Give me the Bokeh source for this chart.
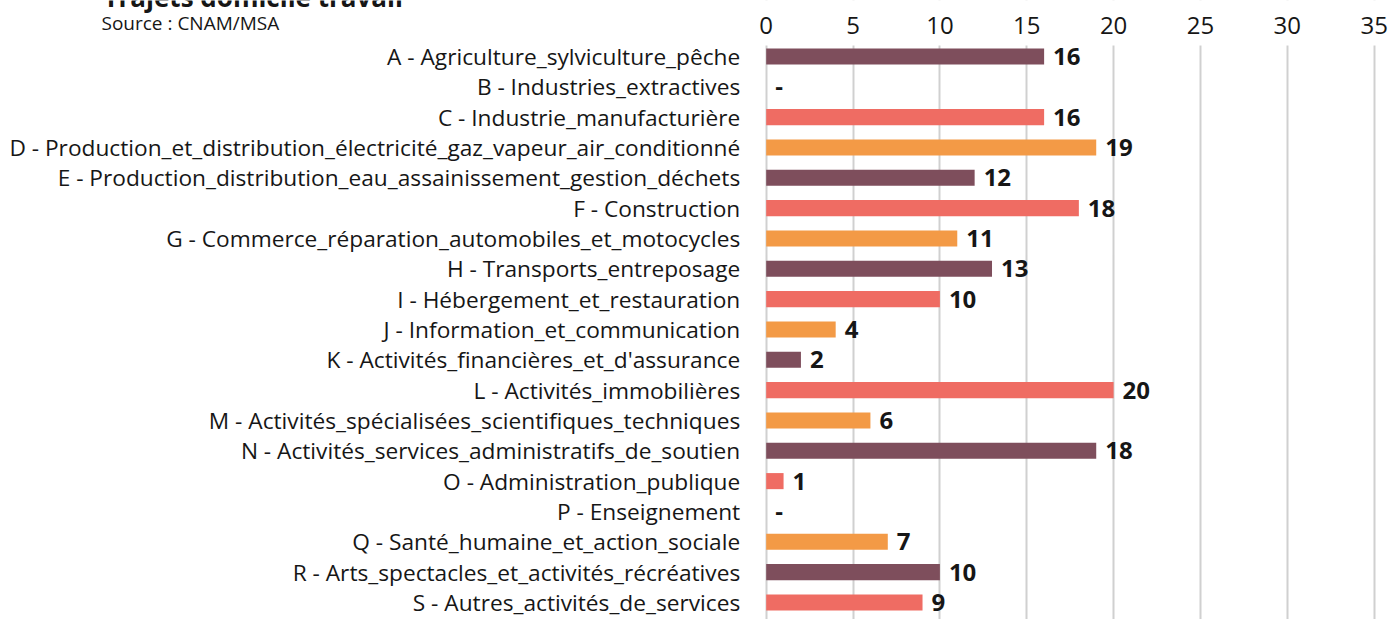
from bokeh.plotting import figure
from bokeh.models import Range1d, FixedTicker, ColumnDataSource, BoxAnnotation
from bokeh.core.properties import value
from bokeh.embed import file_html
from bokeh.resources import INLINE

categories = [
    "A - Agriculture_sylviculture_pêche",
    "B - Industries_extractives",
    "C - Industrie_manufacturière",
    "D - Production_et_distribution_électricité_gaz_vapeur_air_conditionné",
    "E - Production_distribution_eau_assainissement_gestion_déchets",
    "F - Construction",
    "G - Commerce_réparation_automobiles_et_motocycles",
    "H - Transports_entreposage",
    "I - Hébergement_et_restauration",
    "J - Information_et_communication",
    "K - Activités_financières_et_d'assurance",
    "L - Activités_immobilières",
    "M - Activités_spécialisées_scientifiques_techniques",
    "N - Activités_services_administratifs_de_soutien",
    "O - Administration_publique",
    "P - Enseignement",
    "Q - Santé_humaine_et_action_sociale",
    "R - Arts_spectacles_et_activités_récréatives",
    "S - Autres_activités_de_services",
]
values = [16, 0, 16, 19, 12, 18, 11, 13, 10, 4, 2, 20, 6, 19, 1, 0, 7, 10, 9]
value_labels = ["16", "-", "16", "19", "12", "18", "11", "13", "10", "4", "2",
                "20", "6", "18", "1", "-", "7", "10", "9"]
bar_colors = ["#7E4E5C", "#EF6C63", "#EF6C63", "#F39A46", "#7E4E5C", "#EF6C63",
              "#F39A46", "#7E4E5C", "#EF6C63", "#F39A46", "#7E4E5C", "#EF6C63",
              "#F39A46", "#7E4E5C", "#EF6C63", "#F39A46", "#F39A46", "#7E4E5C",
              "#EF6C63"]
x_ticks = [0, 5, 10, 15, 20, 25, 30, 35]
title_text = "Trajets domicile travail"
source_text = "Source : CNAM/MSA"

FONT = "Open Sans"
TXT = "#161616"
n = len(categories)
ypos = list(range(n))

W, H = 1391, 619
X0 = 765.7          # pixel of value 0
SX = 17.37          # pixels per unit
ROW0 = 56.0         # pixel centre of first row
STEP = 30.33        # pixels per row
TOP = 45.0          # pixel top of the bar area


def xd(px):
    return (px - X0) / SX


def yd(py):
    return (py - ROW0) / STEP


p = figure(width=W, height=H, output_backend="svg", toolbar_location=None,
           x_range=Range1d(xd(0), xd(W)), y_range=Range1d(yd(H), yd(0)),
           x_axis_location="above", y_axis_location="left",
           min_border=0, min_border_left=0, min_border_right=0,
           min_border_top=0, min_border_bottom=0)
p.outline_line_color = None

# top value axis
xa = p.xaxis[0]
xa.fixed_location = yd(TOP)
xa.ticker = FixedTicker(ticks=x_ticks)
xa.axis_line_color = None
xa.major_tick_line_color = None
xa.minor_tick_line_color = None
xa.major_label_text_font = FONT
xa.major_label_text_font_size = "24px"
xa.major_label_text_color = TXT
xa.major_label_standoff = 6

# category axis
ya = p.yaxis[0]
ya.fixed_location = 0
ya.ticker = FixedTicker(ticks=ypos)
ya.major_label_overrides = {i: c for i, c in enumerate(categories)}
ya.axis_line_color = None
ya.major_tick_line_color = None
ya.minor_tick_line_color = None
ya.major_label_text_font = FONT
ya.major_label_text_font_size = "22.7px"
ya.major_label_text_color = TXT
ya.major_label_standoff = 20

p.xgrid.ticker = FixedTicker(ticks=x_ticks)
p.xgrid.grid_line_color = "#D0D0D0"
p.xgrid.grid_line_width = 2
p.ygrid.grid_line_color = None

# hide grid lines above the bar area
p.add_layout(BoxAnnotation(bottom=yd(TOP), left=-3, fill_color="white", fill_alpha=1.0,
                           line_color=None, level="glyph"))

src = ColumnDataSource(dict(y=ypos, v=values, c=bar_colors, lab=value_labels))
p.hbar(y="y", right="v", left=0, height=0.53, fill_color="c", line_color=None, source=src)
p.text(x="v", y="y", text="lab", source=src, x_offset=9, text_align="left",
       text_baseline="middle", text_font=value(FONT), text_font_style="bold",
       text_font_size="24px", text_color=TXT)

p.text(x=[xd(101)], y=[yd(22)], text=[source_text], text_align="left",
       text_baseline="middle", text_font=value(FONT), text_font_size="19px",
       text_color=TXT)
p.text(x=[xd(103)], y=[yd(-4)], text=[title_text], text_align="left",
       text_baseline="alphabetic", text_font=value(FONT), text_font_size="26px",
       text_font_style="bold", text_color=TXT)

open("out.html", "w").write(file_html(p, INLINE))
